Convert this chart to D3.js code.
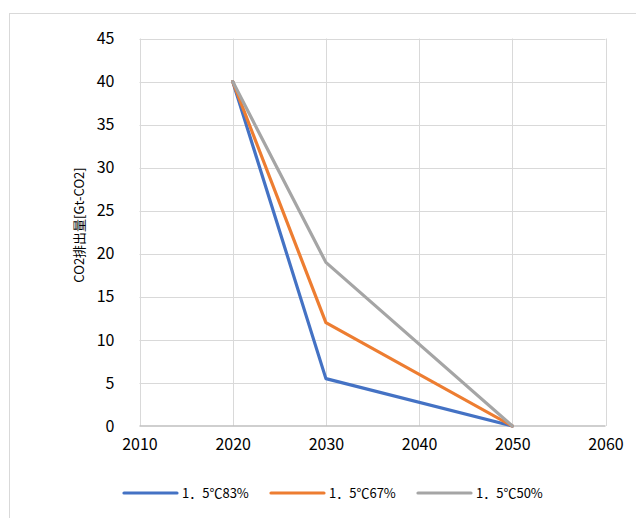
<!DOCTYPE html>
<html>
<head>
<meta charset="utf-8">
<script src="https://cdn.jsdelivr.net/npm/d3@7"></script>
<style>
  html, body { margin: 0; padding: 0; background: #fff; }
  svg { display: block; }
  text { font-family: "Noto Sans CJK JP", "Noto Sans", sans-serif; fill: #000; }
</style>
</head>
<body>
<script>
// ---- data ----
const years = [2020, 2030, 2050];
const seriesNames = ["1．5℃83%", "1．5℃67%", "1．5℃50%"];
const s83 = [40, 5.5, 0];
const s67 = [40, 12, 0];
const s50 = [40, 19, 0];
const xTicks = [2010, 2020, 2030, 2040, 2050, 2060];
const yTicks = [0, 5, 10, 15, 20, 25, 30, 35, 40, 45];
const yTitle = "CO2排出量[Gt-CO2]";
const colors = ["#4472C4", "#ED7D31", "#A5A5A5"];

const W = 636, H = 518;
const svg = d3.select("body").append("svg").attr("width", W).attr("height", H);

// outer chart border
svg.append("rect").attr("x", 9.5).attr("y", 13.5).attr("width", 700).attr("height", 700)
  .attr("fill", "none").attr("stroke", "#d9d9d9").attr("stroke-width", 1);

const L = 139.5, R = 605.5, T = 38.5, B = 426;
const x = d3.scaleLinear().domain([2010, 2060]).range([L, R]);
const y = d3.scaleLinear().domain([0, 45]).range([B, T]);

// gridlines
const g = svg.append("g");
g.selectAll("line.h").data(yTicks.filter(d => d > 0)).enter().append("line")
  .attr("x1", L).attr("x2", R).attr("y1", d => Math.round(y(d)) + 0.5).attr("y2", d => Math.round(y(d)) + 0.5)
  .attr("stroke", "#d9d9d9").attr("stroke-width", 1);
g.selectAll("line.v").data(xTicks).enter().append("line")
  .attr("x1", d => Math.round(x(d)) + 0.5).attr("x2", d => Math.round(x(d)) + 0.5)
  .attr("y1", T).attr("y2", B)
  .attr("stroke", "#d9d9d9").attr("stroke-width", 1);
// bottom axis line
g.append("line").attr("x1", L).attr("x2", R).attr("y1", B).attr("y2", B)
  .attr("stroke", "#bfbfbf").attr("stroke-width", 1.5);

// axes labels using d3 axes
const yAxis = d3.axisLeft(y).tickValues(yTicks).tickSize(0).tickPadding(25);
const ya = svg.append("g").attr("transform", `translate(${L},0)`).call(yAxis);
ya.select(".domain").remove();
ya.selectAll("text").style("font-size", "16px").attr("font-family", null);

const xAxis = d3.axisBottom(x).tickValues(xTicks).tickSize(0).tickPadding(13).tickFormat(d3.format("d"));
const xa = svg.append("g").attr("transform", `translate(0,${B})`).call(xAxis);
xa.select(".domain").remove();
xa.selectAll("text").style("font-size", "16px").attr("font-family", null);

// y title
svg.append("text")
  .attr("transform", "translate(84,225) rotate(-90)")
  .attr("text-anchor", "middle")
  .style("font-size", "13px")
  .text(yTitle);

// lines
const line = d3.line().x((d, i) => x(years[i])).y(d => y(d));
const data = [s83, s67, s50];
data.forEach((s, i) => {
  svg.append("path").datum(s).attr("d", line)
    .attr("fill", "none").attr("stroke", colors[i]).attr("stroke-width", 3.2)
    .attr("stroke-linejoin", "round").attr("stroke-linecap", "round");
});

// legend
const legX = [124, 271, 418];
const lg = svg.append("g");
seriesNames.forEach((n, i) => {
  lg.append("line").attr("x1", legX[i]).attr("x2", legX[i] + 53).attr("y1", 493).attr("y2", 493)
    .attr("stroke", colors[i]).attr("stroke-width", 3.2).attr("stroke-linecap", "round");
  lg.append("text").attr("x", legX[i] + 58).attr("y", 498)
    .style("font-size", "13px").text(n);
});
</script>
</body>
</html>
